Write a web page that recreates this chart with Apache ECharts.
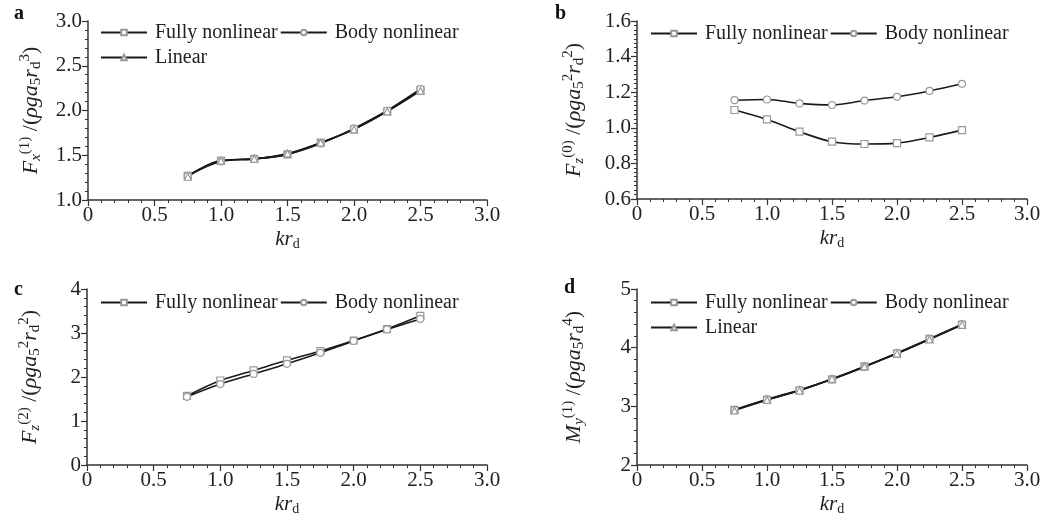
<!DOCTYPE html>
<html>
<head>
<meta charset="utf-8">
<script src="https://cdn.jsdelivr.net/npm/echarts@6/dist/echarts.min.js"></script>
<style>
html,body{margin:0;padding:0;background:#fff;}
#c{width:1055px;height:527px;}
</style>
</head>
<body>
<div id="c"></div>
<script>
// ---- data ----
var kr = [0.75, 1.0, 1.25, 1.5, 1.75, 2.0, 2.25, 2.5];

var aFully  = [1.27, 1.44, 1.46, 1.51, 1.64, 1.79, 1.99, 2.23];
var aBody   = [1.27, 1.43, 1.46, 1.51, 1.63, 1.80, 2.00, 2.24];
var aLinear = [1.26, 1.44, 1.46, 1.52, 1.64, 1.79, 1.99, 2.22];

var bFully  = [1.10, 1.047, 0.978, 0.922, 0.909, 0.914, 0.946, 0.987];
var bBody   = [1.155, 1.159, 1.137, 1.128, 1.153, 1.174, 1.207, 1.247];

var cFully  = [1.57, 1.92, 2.15, 2.38, 2.59, 2.83, 3.09, 3.39];
var cBody   = [1.55, 1.84, 2.07, 2.30, 2.55, 2.82, 3.08, 3.32];

var dFully  = [2.94, 3.11, 3.27, 3.46, 3.68, 3.90, 4.15, 4.39];
var dBody   = [2.94, 3.12, 3.28, 3.46, 3.67, 3.91, 4.15, 4.40];
var dLinear = [2.93, 3.11, 3.27, 3.47, 3.68, 3.90, 4.14, 4.39];

var xTicks = [0, 0.5, 1.0, 1.5, 2.0, 2.5, 3.0];
var names = {full: 'Fully nonlinear', body: 'Body nonlinear', lin: 'Linear'};
var panelLetters = ['a', 'b', 'c', 'd'];

// ---- styling ----
var FONT = "'Liberation Serif','Times New Roman',serif";
var AX = '#333';
function pairs(ys){ return kr.map(function(x,i){ return [x, ys[i]]; }); }

var LH = 26;
var rich = {
  n:   {fontFamily: FONT, fontSize: 22, color: '#222', lineHeight: LH},
  i:   {fontFamily: FONT, fontSize: 22, fontStyle: 'italic', color: '#222', lineHeight: LH},
  sup: {fontFamily: FONT, fontSize: 15, color: '#222', verticalAlign: 'top', lineHeight: 18},
  sub: {fontFamily: FONT, fontSize: 15, color: '#222', verticalAlign: 'bottom', lineHeight: 16},
  subi:{fontFamily: FONT, fontSize: 15, fontStyle: 'italic', color: '#222', verticalAlign: 'bottom', lineHeight: 16}
};
var richX = {
  i:   {fontFamily: FONT, fontSize: 21, fontStyle: 'italic', color: '#222', lineHeight: 24},
  sub: {fontFamily: FONT, fontSize: 14, color: '#222', verticalAlign: 'bottom', lineHeight: 14}
};

var grids = [
  {left: 88,  top: 21,  right: 568, bottom: 327},
  {left: 637, top: 21,  right: 28,  bottom: 328},
  {left: 87,  top: 289, right: 568, bottom: 62},
  {left: 637, top: 289, right: 28,  bottom: 62}
];

var yDefs = [
  {min: 1.0, max: 3.0, interval: 0.5, minor: 5, dec: 1, gap: 44,
   name: '{i|F}{subi|x}{sup|(1)}{n| /(}{i|ρga}{sub|5}{i|r}{sub|d}{sup|3}{n|)}'},
  {min: 0.6, max: 1.6, interval: 0.2, minor: 8, dec: 1, gap: 50,
   name: '{i|F}{subi|z}{sup|(0)}{n| /(}{i|ρga}{sub|5}{sup|2}{i|r}{sub|d}{sup|2}{n|)}'},
  {min: 0, max: 4, interval: 1, minor: 5, dec: 0, gap: 44,
   name: '{i|F}{subi|z}{sup|(2)}{n| /(}{i|ρga}{sub|5}{sup|2}{i|r}{sub|d}{sup|2}{n|)}'},
  {min: 2, max: 5, interval: 1, minor: 5, dec: 0, gap: 50,
   name: '{i|M}{subi|y}{sup|(1)}{n| /(}{i|ρga}{sub|5}{i|r}{sub|d}{sup|4}{n|)}'}
];

var xAxes = [], yAxes = [];
grids.forEach(function(g, k){
  xAxes.push({
    type: 'value', gridIndex: k, min: 0, max: 3, interval: 0.5,
    name: '{i|kr}{sub|d}', nameLocation: 'middle', nameGap: 27,
    nameTextStyle: {rich: richX},
    axisLine: {show: true, onZero: false, lineStyle: {color: AX, width: 1.5}},
    axisTick: {show: true, inside: false, length: 6, lineStyle: {color: AX, width: 1.2}},
    minorTick: {show: true, splitNumber: 5, length: 3, lineStyle: {color: AX, width: 1}},
    splitLine: {show: false},
    axisLabel: {fontFamily: FONT, fontSize: 21, color: '#222', margin: 5,
      formatter: function(v){ return v === 0 ? '0' : v.toFixed(1); }}
  });
  var d = yDefs[k];
  yAxes.push({
    type: 'value', gridIndex: k, min: d.min, max: d.max, interval: d.interval,
    name: d.name, nameLocation: 'middle', nameRotate: 90, nameGap: d.gap,
    nameTextStyle: {rich: rich},
    axisLine: {show: true, onZero: false, lineStyle: {color: AX, width: 1.5}},
    axisTick: {show: true, inside: false, length: 6, lineStyle: {color: AX, width: 1.2}},
    minorTick: {show: true, splitNumber: d.minor, length: 3, lineStyle: {color: AX, width: 1}},
    splitLine: {show: false},
    axisLabel: {fontFamily: FONT, fontSize: 21, color: '#222', margin: 6,
      formatter: function(v){ return v === 0 ? '0' : v.toFixed(d.dec); }}
  });
});

function mk(name, sym, data, k){
  return {
    type: 'line', name: name, xAxisIndex: k, yAxisIndex: k,
    data: pairs(data), smooth: 0.35, symbol: sym, symbolSize: 7,
    lineStyle: {color: '#1a1a1a', width: 1.6},
    itemStyle: {color: '#fff', borderColor: '#999', borderWidth: 1.2},
    emphasis: {disabled: true}, animation: false
  };
}

var series = [
  mk(names.full, 'rect', aFully, 0),
  mk(names.body, 'circle', aBody, 0),
  mk(names.lin, 'triangle', aLinear, 0),
  mk(names.full, 'rect', bFully, 1),
  mk(names.body, 'circle', bBody, 1),
  mk(names.full, 'rect', cFully, 2),
  mk(names.body, 'circle', cBody, 2),
  mk(names.full, 'rect', dFully, 3),
  mk(names.body, 'circle', dBody, 3),
  mk(names.lin, 'triangle', dLinear, 3)
];

function legend(left, top, items){
  return {
    left: left, top: top, width: 380, orient: 'horizontal',
    itemWidth: 46, itemHeight: 7, itemGap: 2, padding: 0,
    data: items, selectedMode: false,
    textStyle: {fontFamily: FONT, fontSize: 20, lineHeight: 23, color: '#222', padding: [0,0,0,3]}
  };
}
var legends = [
  legend(100, 21, [names.full, names.body, names.lin]),
  legend(650, 22, [names.full, names.body]),
  legend(100, 291, [names.full, names.body]),
  legend(650, 291, [names.full, names.body, names.lin])
];

var graphics = [
  {x: 14, y: 4}, {x: 555, y: 4}, {x: 14, y: 280}, {x: 564, y: 278}
].map(function(p, k){
  return {type: 'text', left: p.x, top: p.y,
    style: {text: panelLetters[k], fontFamily: FONT, fontSize: 20, fontWeight: 'bold', fill: '#111'}};
});

var chart = echarts.init(document.getElementById('c'), null, {renderer: 'canvas'});
chart.setOption({
  backgroundColor: '#fff',
  animation: false,
  grid: grids,
  xAxis: xAxes,
  yAxis: yAxes,
  legend: legends,
  series: series,
  graphic: graphics
});
</script>
</body>
</html>
